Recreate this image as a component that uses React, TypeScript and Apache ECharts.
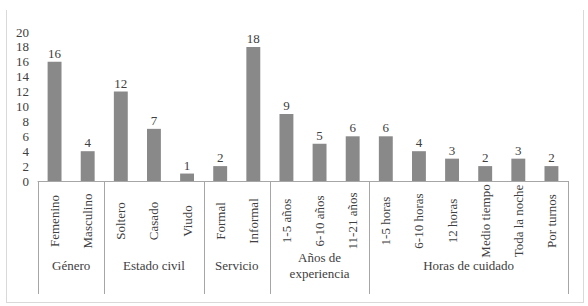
import React, { useEffect, useRef } from "react";
import * as echarts from "echarts";

const categories = [
  "Femenino", "Masculino",
  "Soltero", "Casado", "Viudo",
  "Formal", "Informal",
  "1-5 años", "6-10 años", "11-21 años",
  "1-5 horas", "6-10 horas", "12 horas", "Medio tiempo", "Toda la noche", "Por turnos",
];
const values = [16, 4, 12, 7, 1, 2, 18, 9, 5, 6, 6, 4, 3, 2, 3, 2];
const groupNames = ["Género", "Estado civil", "Servicio", "Años de\nexperiencia", "Horas de cuidado"];
const groupSizes = [2, 3, 2, 3, 6];
const yTicks = { min: 0, max: 20, interval: 2 };

const FONT = "Liberation Serif, serif";
const TEXT = "#404040";
const LINE = "#a6a6a6";

export default function App() {
  const ref = useRef<HTMLDivElement>(null);
  useEffect(() => {
    const chart = echarts.init(ref.current!, undefined, { renderer: "svg" });
    chart.setOption({
      animation: false,
      backgroundColor: "#ffffff",
      textStyle: { fontFamily: FONT },
      grid: { left: 38, right: 20, top: 32, bottom: 125, containLabel: false },
      xAxis: {
        type: "category",
        data: categories,
        axisLine: { show: true, lineStyle: { color: LINE, width: 1 } },
        axisTick: { show: false },
        axisLabel: {
          interval: 0,
          rotate: 90,
          align: "center",
          verticalAlign: "middle",
          margin: 40,
          fontFamily: FONT,
          fontSize: 13,
          color: TEXT,
        },
      },
      yAxis: {
        type: "value",
        min: yTicks.min,
        max: yTicks.max,
        interval: yTicks.interval,
        axisLine: { show: false },
        axisTick: { show: false },
        splitLine: { show: false },
        axisLabel: { fontFamily: FONT, fontSize: 13, color: TEXT, margin: 9 },
      },
      series: [
        {
          type: "bar",
          data: values,
          barWidth: "42%",
          itemStyle: { color: "#898989" },
          label: {
            show: true,
            position: "top",
            distance: 2,
            fontFamily: FONT,
            fontSize: 13,
            color: TEXT,
          },
        },
      ],
    });

    const y0 = chart.convertToPixel({ yAxisIndex: 0 }, 0) as number;
    const c0 = chart.convertToPixel({ xAxisIndex: 0 }, categories[0]) as number;
    const c1 = chart.convertToPixel({ xAxisIndex: 0 }, categories[1]) as number;
    const band = c1 - c0;
    const graphics: any[] = [];
    const sepBottom = y0 + 113;
    let idx = 0;
    const bounds: number[] = [c0 - band / 2];
    groupSizes.forEach((size, g) => {
      const left = (chart.convertToPixel({ xAxisIndex: 0 }, categories[idx]) as number) - band / 2;
      const right = (chart.convertToPixel({ xAxisIndex: 0 }, categories[idx + size - 1]) as number) + band / 2;
      bounds.push(right);
      graphics.push({
        type: "text",
        x: (left + right) / 2,
        y: y0 + 84,
        style: {
          text: groupNames[g],
          align: "center",
          verticalAlign: "middle",
          fontFamily: FONT,
          fontSize: 13,
          lineHeight: 16,
          fill: TEXT,
        },
      });
      idx += size;
    });
    bounds.forEach((bx) => {
      graphics.push({
        type: "line",
        shape: { x1: Math.round(bx) + 0.5, y1: y0, x2: Math.round(bx) + 0.5, y2: sepBottom },
        style: { stroke: LINE, lineWidth: 1 },
      });
    });
    // outer frame
    const frame = { l: 6, r: 583, t: 10, b: 302 };
    graphics.push(
      { type: "line", shape: { x1: frame.l + 0.5, y1: frame.t, x2: frame.l + 0.5, y2: frame.b }, style: { stroke: "#d9d9d9", lineWidth: 1 } },
      { type: "line", shape: { x1: frame.r + 0.5, y1: frame.t, x2: frame.r + 0.5, y2: frame.b }, style: { stroke: "#d9d9d9", lineWidth: 1 } },
      { type: "line", shape: { x1: frame.l, y1: frame.b + 0.5, x2: frame.r + 1, y2: frame.b + 0.5 }, style: { stroke: "#d9d9d9", lineWidth: 1 } }
    );
    chart.setOption({ graphic: graphics });

    return () => chart.dispose();
  }, []);
  return (
    <div
      ref={ref}
      style={{ position: "fixed", left: 0, top: 0, width: 588, height: 306, background: "#fff" }}
    />
  );
}
